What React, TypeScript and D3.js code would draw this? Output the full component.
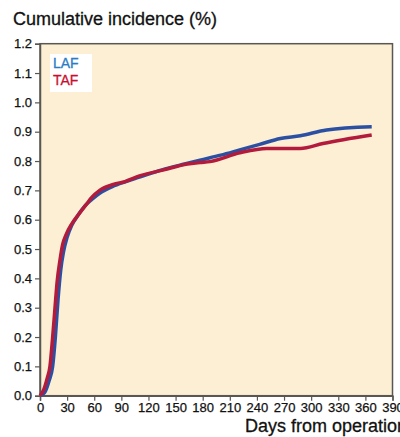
import React, { useRef, useEffect } from 'react';
import * as d3 from 'd3';

const xTicks = [0, 30, 60, 90, 120, 150, 180, 210, 240, 270, 300, 330, 360, 390];
const yTicks = [0, 0.1, 0.2, 0.3, 0.4, 0.5, 0.6, 0.7, 0.8, 0.9, 1.0, 1.1, 1.2];

const lafDays = [0, 5, 10, 14, 17, 20, 23, 26, 30, 35, 42, 50, 57, 66, 80, 95, 110, 135, 160, 177, 200, 221, 243, 266, 288, 317, 367];
const lafValues = [0, 0.01, 0.05, 0.1, 0.2, 0.33, 0.43, 0.49, 0.54, 0.58, 0.615, 0.648, 0.668, 0.69, 0.713, 0.73, 0.745, 0.77, 0.79, 0.803, 0.82, 0.838, 0.857, 0.877, 0.886, 0.906, 0.917];

const tafDays = [0, 4, 8, 11, 14, 16.6, 19, 22, 25, 29, 35, 42, 52, 57, 66, 81, 94, 111, 137, 163, 177, 188, 221, 251, 288, 313, 367];
const tafValues = [0, 0.02, 0.06, 0.1, 0.2, 0.3, 0.39, 0.46, 0.515, 0.55, 0.585, 0.615, 0.655, 0.675, 0.7, 0.72, 0.73, 0.75, 0.77, 0.79, 0.795, 0.798, 0.828, 0.843, 0.843, 0.86, 0.889];

const App = () => {
  const svgRef = useRef<SVGSVGElement>(null);

  useEffect(() => {
    const svg = d3.select(svgRef.current);
    svg.selectAll('*').remove();

    const left = 40, right = 392.5, top = 43.7, bottom = 395.7;
    const font = "'Liberation Sans', Arial, sans-serif";
    const axisColor = '#5a5652';

    const x = d3.scaleLinear().domain([0, 390]).range([left, right]);
    const y = d3.scaleLinear().domain([0, 1.2]).range([bottom, top]);

    svg.append('rect')
      .attr('x', left).attr('y', top)
      .attr('width', right - left).attr('height', bottom - top)
      .attr('fill', '#fdefd3')
      .attr('stroke', axisColor).attr('stroke-width', 1.5);

    const yAxis = svg.append('g')
      .attr('transform', `translate(${left},0)`)
      .call(d3.axisLeft(y).tickValues(yTicks).tickFormat(d3.format('.1f')).tickSize(5).tickPadding(3));
    const xAxis = svg.append('g')
      .attr('transform', `translate(0,${bottom})`)
      .call(d3.axisBottom(x).tickValues(xTicks).tickFormat(d3.format('d')).tickSize(5).tickPadding(2));

    [yAxis, xAxis].forEach(g => {
      g.select('.domain').attr('stroke', axisColor).attr('stroke-width', 1.5);
      g.selectAll('.tick line').attr('stroke', axisColor).attr('stroke-width', 1.2);
      g.selectAll('.tick text').attr('fill', '#111').attr('font-family', font).attr('font-size', 13)
        .attr('stroke', '#111').attr('stroke-width', 0.25);
    });

    const line = d3.line<[number, number]>()
      .x(d => x(d[0]))
      .y(d => y(d[1]))
      .curve(d3.curveMonotoneX);

    const series = [
      { days: lafDays, values: lafValues, color: '#2b50a3' },
      { days: tafDays, values: tafValues, color: '#b31b3d' },
    ];
    series.forEach(s => {
      svg.append('path')
        .datum(s.days.map((d, i) => [d, s.values[i]] as [number, number]))
        .attr('d', line)
        .attr('fill', 'none')
        .attr('stroke', s.color)
        .attr('stroke-width', 3.5)
        .attr('stroke-linejoin', 'round');
    });

    // legend
    svg.append('rect')
      .attr('x', 50).attr('y', 54).attr('width', 42).attr('height', 38)
      .attr('fill', '#ffffff');
    svg.append('text').attr('x', 53).attr('y', 68)
      .attr('font-family', font).attr('font-size', 14).attr('fill', '#2a7cc4')
      .attr('stroke', '#2a7cc4').attr('stroke-width', 0.3)
      .text('LAF');
    svg.append('text').attr('x', 53).attr('y', 85)
      .attr('font-family', font).attr('font-size', 14).attr('fill', '#c8102e')
      .attr('stroke', '#c8102e').attr('stroke-width', 0.3)
      .text('TAF');

    svg.append('text').attr('x', 13).attr('y', 25)
      .attr('font-family', font).attr('font-size', 18).attr('fill', '#111')
      .attr('stroke', '#111').attr('stroke-width', 0.3)
      .text('Cumulative incidence (%)');
    svg.append('text').attr('x', 245).attr('y', 432)
      .attr('font-family', font).attr('font-size', 18).attr('fill', '#111')
      .attr('stroke', '#111').attr('stroke-width', 0.3)
      .text('Days from operation');
  }, []);

  return (
    <svg ref={svgRef} width={400} height={437} style={{ position: 'absolute', left: 0, top: 0 }} />
  );
};

export default App;
